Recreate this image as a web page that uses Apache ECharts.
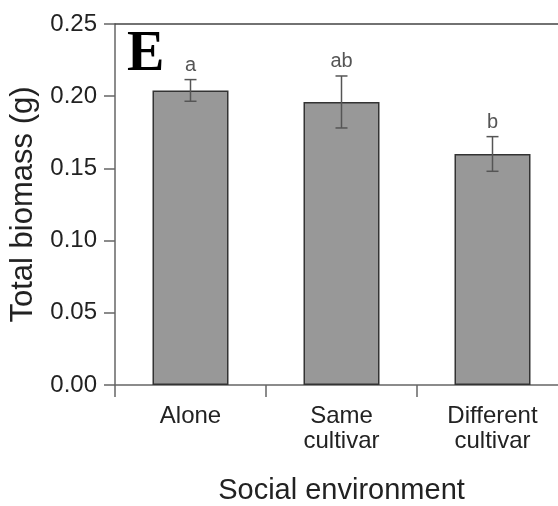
<!DOCTYPE html>
<html>
<head>
<meta charset="utf-8">
<script src="https://cdn.jsdelivr.net/npm/echarts@6/dist/echarts.min.js"></script>
<style>html,body{margin:0;padding:0;background:#fff;}#c{width:558px;height:506px;}</style>
</head>
<body>
<div id="c"></div>
<script>
var categories = ['Alone', 'Same\ncultivar', 'Different\ncultivar'];
var means = [0.204, 0.196, 0.160];
var errors = [0.0075, 0.018, 0.012];
var letters = ['a', 'ab', 'b'];
var yTicks = { min: 0, max: 0.25, interval: 0.05 };
var panelLabel = 'E';
var xName = 'Social environment';
var yName = 'Total biomass (g)';

var font = 'Liberation Sans, Arial, sans-serif';
var chart = echarts.init(document.getElementById('c'), null, { renderer: 'canvas' });

var errData = categories.map(function (c, i) { return [i, means[i], errors[i]]; });

chart.setOption({
  animation: false,
  backgroundColor: '#fff',
  grid: { left: 115, width: 453, top: 24, height: 361, containLabel: false, outerBoundsMode: 'none' },
  xAxis: [{
    type: 'category',
    data: categories,
    position: 'bottom',
    axisLine: { show: true, lineStyle: { color: '#666', width: 1.5 } },
    axisTick: { show: true, length: 12, inside: false, lineStyle: { color: '#666', width: 1.5 } },
    axisLabel: { color: '#222', fontSize: 24, lineHeight: 25, fontFamily: font, margin: 19 },
    name: xName,
    nameLocation: 'middle',
    nameGap: 91,
    nameTextStyle: { color: '#222', fontSize: 29, fontFamily: font }
  }, {
    type: 'category',
    data: categories,
    position: 'top',
    axisLine: { show: true, lineStyle: { color: '#444', width: 1.5 } },
    axisTick: { show: false },
    axisLabel: { show: false }
  }],
  yAxis: {
    type: 'value',
    min: yTicks.min,
    max: yTicks.max,
    interval: yTicks.interval,
    axisLine: { show: true, lineStyle: { color: '#666', width: 1.5 } },
    axisTick: { show: true, length: 11, lineStyle: { color: '#666', width: 1.5 } },
    splitLine: { show: false },
    axisLabel: {
      color: '#222', fontSize: 24, fontFamily: font, margin: 18,
      formatter: function (v) { return v.toFixed(2); }
    },
    name: yName,
    nameLocation: 'middle',
    nameGap: 71,
    nameTextStyle: { color: '#222', fontSize: 31, fontFamily: font }
  },
  series: [{
    type: 'bar',
    data: means,
    barWidth: 76,
    itemStyle: { color: '#989898', borderColor: '#333', borderWidth: 1.5 }
  }, {
    type: 'custom',
    data: errData,
    z: 10,
    renderItem: function (params, api) {
      var x = api.value(0), m = api.value(1), e = api.value(2);
      var top = api.coord([x, m + e]);
      var bot = api.coord([x, m - e]);
      var hw = 6;
      var st = { stroke: '#555', lineWidth: 1.5 };
      return {
        type: 'group',
        children: [
          { type: 'line', shape: { x1: top[0], y1: top[1], x2: bot[0], y2: bot[1] }, style: st },
          { type: 'line', shape: { x1: top[0] - hw, y1: top[1], x2: top[0] + hw, y2: top[1] }, style: st },
          { type: 'line', shape: { x1: bot[0] - hw, y1: bot[1], x2: bot[0] + hw, y2: bot[1] }, style: st },
          { type: 'text', style: { text: letters[params.dataIndex], x: top[0], y: top[1] - 4,
              fill: '#555', font: '20px ' + font, textAlign: 'center', textVerticalAlign: 'bottom' } }
        ]
      };
    }
  }],
  graphic: [{
    type: 'text',
    left: 127,
    top: 28,
    style: { text: panelLabel, fill: '#000', font: 'bold 56px "Liberation Serif", "Times New Roman", serif' }
  }]
});
</script>
</body>
</html>
